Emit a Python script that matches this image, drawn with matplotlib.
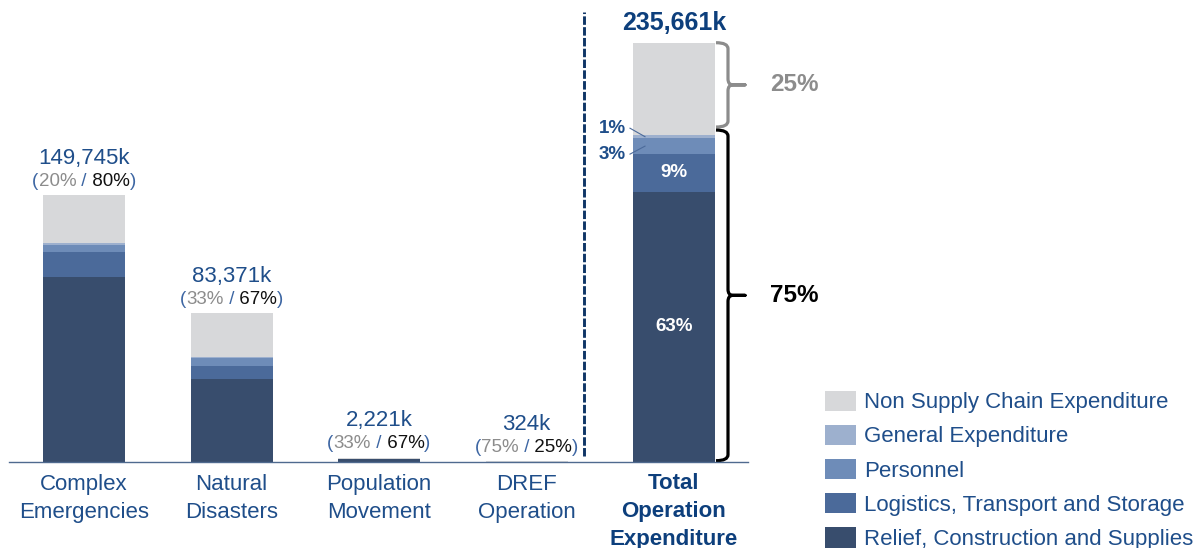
import matplotlib
matplotlib.use('Agg')
import matplotlib.pyplot as plt
import numpy as np
from matplotlib.patches import Patch, PathPatch
from matplotlib.path import Path
from matplotlib.offsetbox import TextArea, HPacker, AnnotationBbox

plt.rcParams['font.family'] = ['Liberation Sans', 'DejaVu Sans']

# ---------------- data ----------------
categories = ['Complex\nEmergencies', 'Natural\nDisasters', 'Population\nMovement', 'DREF\nOperation']
total_label = 'Total\nOperation\nExpenditure'
series_names = ['Relief, Construction and Supplies', 'Logistics, Transport and Storage',
                'Personnel', 'General Expenditure', 'Non Supply Chain Expenditure']
relief = [104000, 46600, 1300, 55]
logistics = [14100, 6950, 130, 15]
personnel = [3950, 4700, 40, 8]
general = [960, 900, 18, 3]
non_supply = [26735, 24221, 733, 243]
share_non = ['20%', '33%', '33%', '75%']
share_supply = ['80%', '67%', '67%', '25%']
total_seg_labels = ['63%', '9%', '3%', '1%']   # relief, logistics, personnel, general
total_split_labels = ['25%', '75%']           # non supply, supply chain

colors = ['#384D6D', '#4B6A9A', '#6E8CB8', '#9DB0CE', '#D7D8DA']
BLUE = '#1F4E8A'
PBLUE = '#3D66A3'
DBLUE = '#0D3F7C'
GREY_T = '#8C8C8C'

# ---------------- layout ----------------
W, H = 1202, 548
SPACING = 147.5          # px between category centres
FIRST = 84               # px of first centre
BASE = 461.7             # px (from top) of baseline
TOP = 42.7               # px (from top) of total bar top

stack = np.array([relief, logistics, personnel, general, non_supply], float)
seg_tot = stack.sum(axis=1)
full = np.column_stack([stack, seg_tot])
totals = full.sum(axis=0)
grand = totals[-1]
kpp = grand / (BASE - TOP)


def dx(px):
    return px / SPACING


def dy(px):
    return px * kpp


fig = plt.figure(figsize=(W / 100, H / 100), dpi=100)
ax = fig.add_axes([0, 0, 1, 1])
ax.axis('off')
x0 = -FIRST / SPACING
ax.set_xlim(x0, x0 + W / SPACING)
y0 = -(H - BASE) * kpp
ax.set_ylim(y0, y0 + H * kpp)

n = len(categories)
xpos = np.arange(n + 1)
width = 82 / SPACING

bottom = np.zeros(n + 1)
for vals, c in zip(full, colors):
    ax.bar(xpos, vals, width, bottom=bottom, color=c, linewidth=0)
    bottom += vals

# baseline
ax.plot([x0 + dx(9), 4 + width / 2 + dx(33)], [0, 0], color='#4F6A8F', lw=1.0)

# dashed separator
ax.plot([x0 + dx(584.3), x0 + dx(584.3)], [dy(6), grand + dy(31)], color='#0F3566',
        lw=2.1, linestyle=(0, (2.9, 0.8)), solid_capstyle='butt', dash_capstyle='butt')

# category labels
for i, lab in enumerate(categories):
    ax.text(i, -dy(12.5), lab, ha='center', va='top', fontsize=16, color=BLUE, linespacing=1.45)
ax.text(n, -dy(11.5), total_label, ha='center', va='top', fontsize=16, color=DBLUE,
        fontweight='bold', linespacing=1.42)

# value + share labels
for i in range(n):
    top = totals[i]
    ax.text(i, top + dy(37), f"{int(totals[i]):,}k", ha='center', va='center',
            fontsize=16, color=BLUE)
    parts = [('(', PBLUE), (share_non[i], GREY_T), (' /', PBLUE), (' ' + share_supply[i], '#111111'), (')', PBLUE)]
    areas = [TextArea(t, textprops=dict(color=c, fontsize=13.5)) for t, c in parts]
    box = HPacker(children=areas, align='baseline', pad=0, sep=0)
    ab = AnnotationBbox(box, (i, top + dy(14)), frameon=False, box_alignment=(0.5, 0.5), pad=0)
    ax.add_artist(ab)

# total label
ax.text(n, grand + dy(19.7), f"{int(grand):,}k", ha='center', va='center', fontsize=18,
        fontweight='bold', color=DBLUE)

# inside labels of total bar
cum = np.concatenate([[0], np.cumsum(seg_tot)])
mid = (cum[:-1] + cum[1:]) / 2
ax.text(n, mid[0], total_seg_labels[0], ha='center', va='center', fontsize=13.5, fontweight='bold', color='white')
ax.text(n, mid[1], total_seg_labels[1], ha='center', va='center', fontsize=13.5, fontweight='bold', color='white')
bar_left = n - width / 2
bar_right = n + width / 2
# 1% (general) and 3% (personnel) with leader lines
y1 = mid[3] + dy(8.5)
y3 = mid[2] - dy(8)
ax.text(bar_left - dx(21), y1, total_seg_labels[3], ha='center', va='center', fontsize=13.5,
        fontweight='bold', color=BLUE)
ax.text(bar_left - dx(21), y3, total_seg_labels[2], ha='center', va='center', fontsize=13.5,
        fontweight='bold', color=BLUE)
ax.plot([bar_left - dx(3), bar_left + dx(12)], [y1, mid[3]], color='#4B6A9A', lw=0.8)
ax.plot([bar_left - dx(3), bar_left + dx(12)], [y3, mid[2]], color='#4B6A9A', lw=0.8)


def brace(ytop, ybot, color, lw):
    xl = bar_right + dx(1)
    xv = bar_right + dx(13)
    xt = bar_right + dx(30)
    ymid = (ytop + ybot) / 2
    ry = dy(6)
    verts = [(xl, ytop), (xv, ytop), (xv, ytop - ry),
             (xv, ymid + ry), (xv, ymid), (xv + dx(5), ymid),
             (xt, ymid), (xv + dx(5), ymid),
             (xv, ymid), (xv, ymid - ry),
             (xv, ybot + ry), (xv, ybot), (xl, ybot)]
    codes = [Path.MOVETO, Path.CURVE3, Path.CURVE3,
             Path.LINETO, Path.CURVE3, Path.CURVE3,
             Path.LINETO, Path.LINETO,
             Path.CURVE3, Path.CURVE3,
             Path.LINETO, Path.CURVE3, Path.CURVE3]
    ax.add_patch(PathPatch(Path(verts, codes), fill=False, edgecolor=color, lw=lw,
                           joinstyle='round', capstyle='butt'))
    return ymid


supply_top = cum[4]
m1 = brace(grand, supply_top + dy(8), '#8C8C8C', 2.3)
m2 = brace(supply_top + dy(5), dy(1), 'black', 2.3)
ax.text(bar_right + dx(55), m1, total_split_labels[0], ha='left', va='center', fontsize=17.5,
        fontweight='bold', color='#8C8C8C')
ax.text(bar_right + dx(55), m2, total_split_labels[1], ha='left', va='center', fontsize=17.5,
        fontweight='bold', color='black')

# legend
handles = [Patch(facecolor=colors[k], edgecolor='none') for k in range(4, -1, -1)]
labels = [series_names[k] for k in range(4, -1, -1)]
fig.legend(handles, labels, loc='upper left', bbox_to_anchor=(825 / W, 1 - 390.5 / H),
           frameon=False, fontsize=16, handlelength=1.4, handleheight=1.02,
           handletextpad=0.36, labelspacing=0.52, borderpad=0, borderaxespad=0,
           labelcolor=BLUE)

fig.savefig('out.png', dpi=100)
